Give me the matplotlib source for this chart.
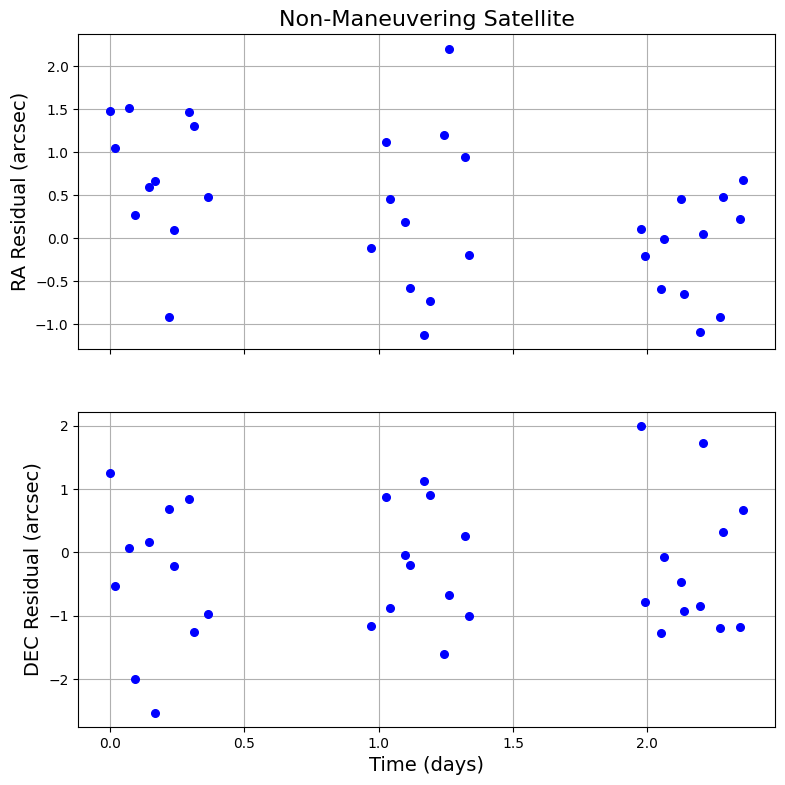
import matplotlib
matplotlib.use("Agg")
import matplotlib.pyplot as plt

time_days = [0.000, 0.020, 0.072, 0.094, 0.145, 0.167, 0.220, 0.238, 0.294, 0.312, 0.364,
             0.970, 1.026, 1.041, 1.097, 1.117, 1.170, 1.190, 1.244, 1.260, 1.320, 1.335,
             1.978, 1.993, 2.052, 2.063, 2.125, 2.138, 2.196, 2.208, 2.271, 2.283, 2.346, 2.357]

ra_resid = [1.484, 1.054, 1.519, 0.271, 0.597, 0.671, -0.915, 0.101, 1.473, 1.310, 0.484,
            -0.109, 1.116, 0.453, 0.194, -0.574, -1.120, -0.725, 1.205, 2.205, 0.950, -0.190,
            0.105, -0.202, -0.585, -0.004, 0.453, -0.643, -1.093, 0.054, -0.915, 0.484, 0.229, 0.682]

dec_resid = [1.249, -0.522, 0.069, -2.003, 0.158, -2.530, 0.680, -0.206, 0.838, -1.249, -0.965,
             -1.160, 0.880, -0.870, -0.047, -0.190, 1.123, 0.901, -1.597, -0.664, 0.253, -0.996,
             1.993, -0.775, -1.265, -0.079, -0.474, -0.917, -0.838, 1.724, -1.186, 0.316, -1.170, 0.664]

fig = plt.figure(figsize=(7.85, 7.85), dpi=100)
ax1 = fig.add_axes([0.0997, 0.5554, 0.8875, 0.4009])
ax2 = fig.add_axes([0.0997, 0.0739, 0.8875, 0.4013], sharex=ax1)

ax1.plot(time_days, ra_resid, 'bo', markersize=5.5)
ax1.set_ylabel('RA Residual (arcsec)', fontsize=14)
ax1.set_title('Non-Maneuvering Satellite', fontsize=16)
ax1.grid(True)
ax1.tick_params(labelbottom=False)

ax2.plot(time_days, dec_resid, 'bo', markersize=5.5)
ax2.set_ylabel('DEC Residual (arcsec)', fontsize=14)
ax2.set_xlabel('Time (days)', fontsize=14)
ax2.grid(True)

fig.savefig('out.png', dpi=100)
